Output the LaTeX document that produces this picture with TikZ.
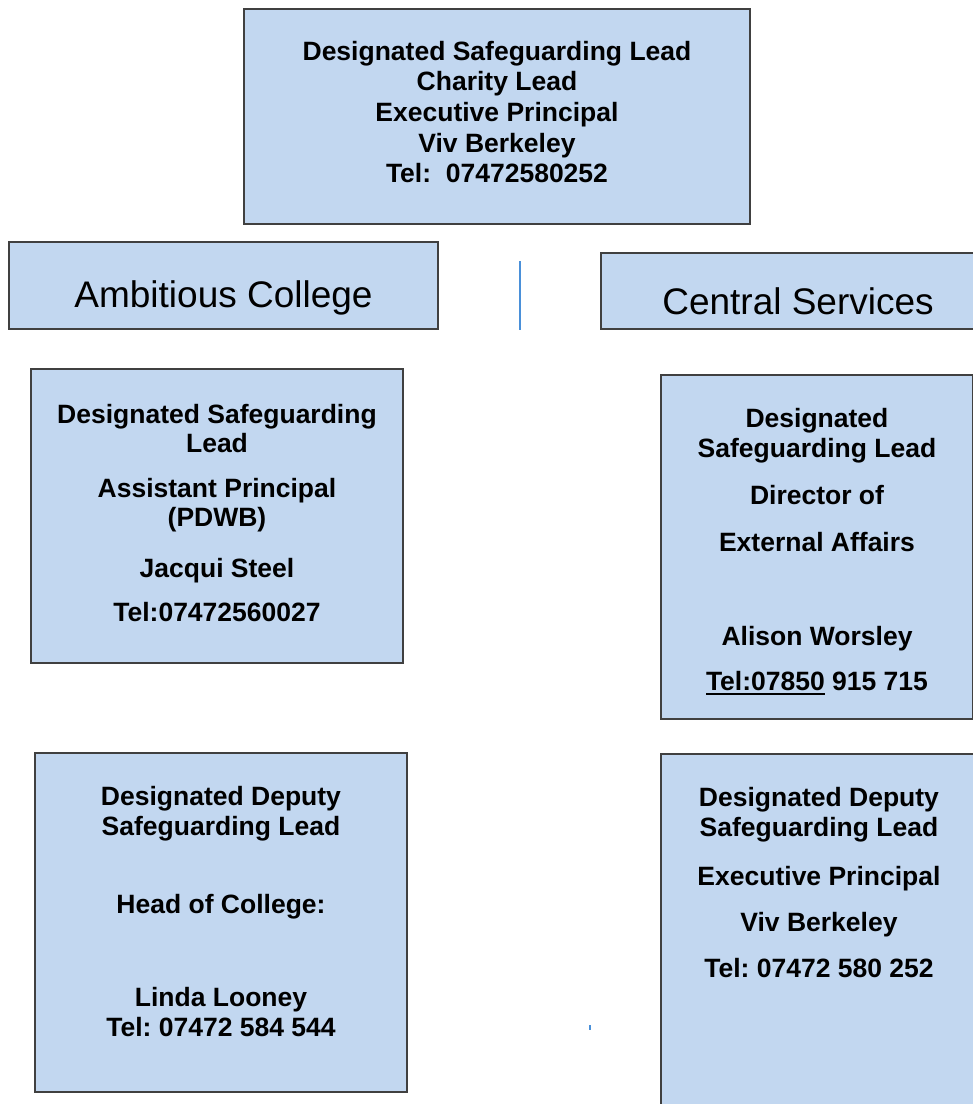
\documentclass[tikz,border=0pt]{standalone}
\usepackage{fontspec}
\setmainfont{Liberation Sans}
\frenchspacing
\definecolor{boxfill}{HTML}{C2D7F0}
\definecolor{boxline}{HTML}{404040}
\definecolor{lineblue}{HTML}{4A90D9}
\newlength\myulw
\newcommand\myul[1]{\settowidth\myulw{#1}\rlap{\rule[-4pt]{\myulw}{2pt}}#1}
\tikzset{
  box/.style={draw=boxline, fill=boxfill, line width=1.5pt, inner sep=0pt},
  bt/.style={anchor=base, inner sep=0pt, font=\bfseries\fontsize{26.5}{30}\selectfont},
  ht/.style={anchor=base, inner sep=0pt, font=\fontsize{37}{44}\selectfont},
  bluelink/.style={draw=lineblue, line width=2pt},
}
\begin{document}
\begin{tikzpicture}[x=1pt, y=-1pt]
\useasboundingbox (0,0) rectangle (973,1104);
\clip (0,0) rectangle (973,1104);
% boxes
\node[box, minimum width=506pt, minimum height=215pt] (top) at (497,116.5) {};
\node[box, minimum width=429pt, minimum height=87pt] (amb) at (223.5,285.5) {};
\node[box, minimum width=389pt, minimum height=76pt] (cen) at (795.5,291) {};
\node[box, minimum width=372pt, minimum height=294pt] (ldsl) at (217,516) {};
\node[box, minimum width=311.5pt, minimum height=344pt] (rdsl) at (816.75,547) {};
\node[box, minimum width=372pt, minimum height=339pt] (ldep) at (221,922.5) {};
\node[box, minimum width=329pt, minimum height=366pt] (rdep) at (825.5,937) {};
% blue marks
\coordinate (v1) at (520,261);
\coordinate (v2) at (520,330);
\draw[bluelink] (v1) -- (v2);
\coordinate (d1) at (590,1025);
\coordinate (d2) at (590,1030);
\draw[bluelink] (d1) -- (d2);
% top box text
\node[bt] (t1) at (497,60.5) {Designated Safeguarding Lead};
\node[bt] (t2) at (497,90.5) {Charity Lead};
\node[bt] (t3) at (497,121.5) {Executive Principal};
\node[bt] (t4) at (497,152) {Viv Berkeley};
\node[bt] (t5) at (497,182.5) {Tel:\ \ 07472580252};
% headers
\node[ht] (ambt) at (223.5,307) {Ambitious College};
\node[ht] (cent) at (798,314) {Central Services};
% left DSL
\node[bt] (l1) at (217,423.5) {Designated Safeguarding};
\node[bt] (l2) at (217,452.5) {Lead};
\node[bt] (l3) at (217,497.5) {Assistant Principal};
\node[bt] (l4) at (217,526.5) {(PDWB)};
\node[bt] (l5) at (217,577.5) {Jacqui Steel};
\node[bt] (l6) at (217,621.5) {Tel:07472560027};
% right DSL
\node[bt] (r1) at (817,427.5) {Designated};
\node[bt] (r2) at (817,457.5) {Safeguarding Lead};
\node[bt] (r3) at (817,504.5) {Director of};
\node[bt] (r4) at (817,551.5) {External Affairs};
\node[bt] (r5) at (817,645.5) {Alison Worsley};
\node[bt] (r6) at (817,690.5) {\myul{Tel:07850} 915 715};
% left deputy
\node[bt] (p1) at (221,805.5) {Designated Deputy};
\node[bt] (p2) at (221,835.5) {Safeguarding Lead};
\node[bt] (p3) at (221,913.5) {Head of College:};
\node[bt] (p4) at (221,1006.5) {Linda Looney};
\node[bt] (p5) at (221,1036.5) {Tel: 07472 584 544};
% right deputy
\node[bt] (q1) at (819,806.5) {Designated Deputy};
\node[bt] (q2) at (819,836.5) {Safeguarding Lead};
\node[bt] (q3) at (819,885.5) {Executive Principal};
\node[bt] (q4) at (819,931.5) {Viv Berkeley};
\node[bt] (q5) at (819,977.5) {Tel: 07472 580 252};
\end{tikzpicture}
\end{document}
